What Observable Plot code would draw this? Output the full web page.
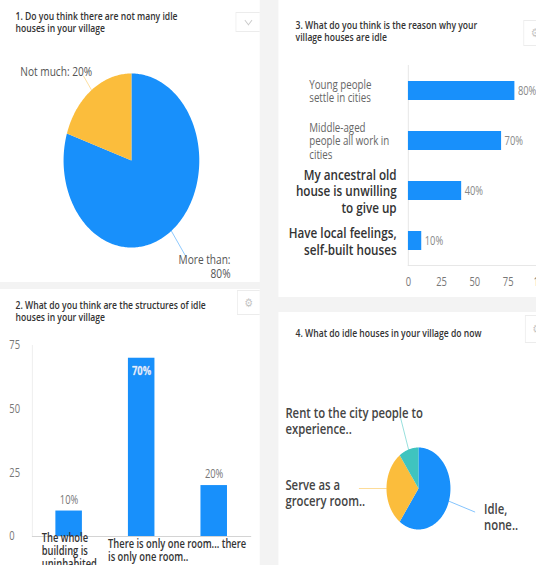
<!DOCTYPE html>
<html>
<head>
<meta charset="utf-8">
<script src="https://cdn.jsdelivr.net/npm/d3@7"></script>
<script src="https://cdn.jsdelivr.net/npm/@observablehq/plot@0.6"></script>
<style>
  html, body { margin: 0; padding: 0; width: 536px; height: 565px; overflow: hidden; background: #f3f3f3; }
  #wrap { position: absolute; left: 0; top: 0; width: 688px; height: 565px; transform: scaleX(0.78); transform-origin: 0 0; background: #f3f3f3; font-family: "Open Sans", sans-serif; }
  .panel { position: absolute; background: #ffffff; overflow: hidden; }
  .title { position: absolute; font-size: 11px; line-height: 11.5px; font-weight: 600; color: #333; white-space: nowrap; }
  .iconbox { position: absolute; border: 1px solid #ececec; background: #fff; box-sizing: border-box; display: flex; align-items: center; justify-content: center; color: #c4c4c4; font-family: "DejaVu Sans", sans-serif; font-size: 12px; }
  .chev { width: 6px; height: 6px; border-right: 1.5px solid #c8c8c8; border-bottom: 1.5px solid #c8c8c8; transform: rotate(45deg); margin-top: -4px; }
</style>
</head>
<body>
<div id="wrap">
  <div class="panel" id="p1" style="left:0px;top:0px;width:333px;height:282px;">
    <div class="title" style="left:20px;top:10px;">1. Do you think there are not many idle<br>houses in your village</div>
    <div class="iconbox" style="left:302px;top:12px;width:32px;height:20px;"><div class="chev"></div></div>
  </div>
  <div class="panel" id="p2" style="left:0px;top:289px;width:333px;height:276px;">
    <div class="title" style="left:20px;top:10px;">2. What do you think are the structures of idle<br>houses in your village</div>
    <div class="iconbox" style="left:304px;top:1px;width:30px;height:25px;">⚙</div>
  </div>
  <div class="panel" id="p3" style="left:357px;top:0px;width:331px;height:297px;">
    <div class="title" style="left:22px;top:19px;">3. What do you think is the reason why your<br>village houses are idle</div>
    <div class="iconbox" style="left:314px;top:20px;width:30px;height:26px;">⚙</div>
  </div>
  <div class="panel" id="p4" style="left:357px;top:312px;width:331px;height:253px;">
    <div class="title" style="left:22px;top:15px;">4. What do idle houses in your village do now</div>
    <div class="iconbox" style="left:316px;top:3px;width:30px;height:28px;">⚙</div>
  </div>
</div>
<script>
// ---------- data ----------
const blue = "#1890fb", yellow = "#fbbd3c", teal = "#3fc4bf";

// Chart 1: pie
const pie1Labels = ["More than", "Not much"];
const pie1Values = [80, 20];
const pie1Text = ["More than:\n80%", "Not much: 20%"];
const pie1Colors = [blue, yellow];

// Chart 2: vertical bars
const structureLabels = ["The whole\nbuilding is\nuninhabited", "There is only one room... there\nis only one room..", "Other"];
const structureValues = [10, 70, 20];
const structureTicks = [0, 25, 50, 75];

// Chart 3: horizontal bars
const reasonLabels = ["Young people\nsettle in cities", "Middle-aged\npeople all work in\ncities", "My ancestral old\nhouse is unwilling\nto give up", "Have local feelings,\nself-built houses"];
const reasonValues = [80, 70, 40, 10];
const reasonTicks = [0, 25, 50, 75, 100];

// Chart 4: pie
const pie4Labels = ["Idle, none..", "Serve as a grocery room..", "Rent to the city people to experience.."];
const pie4Values = [60, 30, 10];
const pie4Text = ["Idle,\nnone..", "Serve as a\ngrocery room..", "Rent to the city people to\nexperience.."];
const pie4Colors = [blue, yellow, teal];

// ---------- helpers ----------
const baseStyle = {fontFamily: "'Open Sans', sans-serif", fontSize: "12px", color: "#777", background: "transparent", overflow: "visible", position: "absolute", left: "0px", top: "0px", maxWidth: "none"};

function pieGeometry(labels, values) {
  const arcs = d3.pie().sort(null)(values);
  const polys = [], mids = [];
  arcs.forEach((a, i) => {
    polys.push({label: labels[i], x: 0, y: 0});
    const n = Math.max(2, Math.ceil((a.endAngle - a.startAngle) / (Math.PI / 180)));
    for (let k = 0; k <= n; k++) {
      const t = a.startAngle + (a.endAngle - a.startAngle) * k / n;
      polys.push({label: labels[i], x: Math.sin(t), y: Math.cos(t)});
    }
    const m = (a.startAngle + a.endAngle) / 2;
    mids.push({label: labels[i], i, sx: Math.sin(m), sy: Math.cos(m)});
  });
  return {polys, mids};
}
function leaders(mids, ext) {
  const out = [];
  mids.forEach(d => {
    const e = ext(d);
    out.push({label: d.label, x: d.sx, y: d.sy});
    out.push({label: d.label, x: d.sx * e, y: d.sy * e});
  });
  return out;
}

// ---------- chart 1 ----------
{
  const g = pieGeometry(pie1Labels, pie1Values);
  const ext = d => d.sx < 0 ? 1.2 : 1.35;
  const plot = Plot.plot({
    width: 333, height: 282, marginLeft: 81, marginRight: 78, marginTop: 73, marginBottom: 35,
    x: {domain: [-1, 1], axis: null}, y: {domain: [-1, 1], axis: null},
    color: {domain: pie1Labels, range: pie1Colors},
    style: baseStyle,
    marks: [
      Plot.line(g.polys, {x: "x", y: "y", z: "label", fill: "label", stroke: "none"}),
      Plot.line(leaders(g.mids, ext), {x: "x", y: "y", z: "label", stroke: "label", strokeWidth: 1, strokeOpacity: 0.55}),
      Plot.text(g.mids.filter(d => d.sx < 0), {x: d => d.sx * ext(d), y: d => d.sy * ext(d), text: d => pie1Text[d.i], textAnchor: "end", lineAnchor: "top", dx: 11, dy: -9.5, fontSize: 13, fill: "#555"}),
      Plot.text(g.mids.filter(d => d.sx >= 0), {x: d => d.sx * ext(d), y: d => d.sy * ext(d), text: d => pie1Text[d.i], textAnchor: "end", lineAnchor: "top", dx: 58, dy: -2, fontSize: 13, lineHeight: 1.08, fill: "#555"})
    ]
  });
  document.getElementById("p1").prepend(plot);
}

// ---------- chart 2 ----------
{
  const data = structureLabels.map((label, i) => ({label, value: structureValues[i], i}));
  const maxV = d3.max(structureValues);
  const plot = Plot.plot({
    width: 333, height: 276, marginLeft: 41, marginRight: 11, marginTop: 56, marginBottom: 29,
    x: {domain: structureLabels, paddingInner: 0.63, paddingOuter: 0.315, axis: null},
    y: {domain: [0, 75], axis: null},
    style: baseStyle,
    marks: [
      Plot.frame({anchor: "left", stroke: "#ececec"}),
      Plot.ruleY([0], {stroke: "#cfcfcf"}),
      Plot.barY(data, {x: "label", y: "value", fill: blue}),
      Plot.axisY({ticks: structureTicks, tickSize: 0, tickPadding: 29.5, textAnchor: "start", fill: "#777", fontSize: 12, label: null}),
      Plot.text(data.filter(d => d.value < maxV), {x: "label", y: "value", text: d => d.value + "%", dy: -11, fill: "#777", fontSize: 12}),
      Plot.text(data.filter(d => d.value === maxV), {x: "label", y: "value", text: d => d.value + "%", dy: 13, fill: "#e4eeff", stroke: "#9fb4cc", strokeWidth: 0.4, fontSize: 12, fontWeight: 700}),
      Plot.text(data.filter(d => d.i === 0), {x: "label", frameAnchor: "bottom", text: "label", textAnchor: "start", lineAnchor: "middle", dx: -35, dy: 14, lineHeight: 1.1, fontSize: 12, fontWeight: 600, fill: "#333"}),
      Plot.text(data.filter(d => d.i === 1), {x: "label", frameAnchor: "bottom", text: "label", textAnchor: "start", lineAnchor: "middle", dx: -43, dy: 14, lineHeight: 1.05, fontSize: 12, fontWeight: 600, fill: "#333"})
    ]
  });
  document.getElementById("p2").prepend(plot);
}

// ---------- chart 3 ----------
{
  const data = reasonLabels.map((label, i) => ({label, value: reasonValues[i], i}));
  const plot = Plot.plot({
    width: 350, height: 297, marginLeft: 166, marginRight: 13.4, marginTop: 65, marginBottom: 32,
    x: {domain: [0, 100], axis: null},
    y: {domain: reasonLabels, paddingInner: 0.62, paddingOuter: 0.31, axis: null},
    style: baseStyle,
    marks: [
      Plot.frame({anchor: "left", stroke: "#e4e4e4"}),
      Plot.frame({anchor: "bottom", stroke: "#e4e4e4"}),
      Plot.barX(data, {x: "value", y: "label", fill: blue}),
      Plot.text(data, {x: "value", y: "label", text: d => d.value + "%", textAnchor: "start", dx: 4, fill: "#888", fontSize: 12}),
      Plot.axisX({ticks: reasonTicks, tickSize: 0, tickPadding: 12, fill: "#777", fontSize: 12, label: null}),
      Plot.text(data.filter(d => d.i < 2), {y: "label", frameAnchor: "left", text: "label", textAnchor: "start", lineAnchor: "middle", dx: -127, lineHeight: 1.1, fontSize: 12.5, fill: "#666"}),
      Plot.text(data.filter(d => d.i >= 2), {y: "label", frameAnchor: "left", text: "label", textAnchor: "end", lineAnchor: "middle", dx: -15, lineHeight: 1.1, fontSize: 15, fontWeight: 600, fill: "#333"})
    ]
  });
  document.getElementById("p3").prepend(plot);
}

// ---------- chart 4 ----------
{
  const g = pieGeometry(pie4Labels, pie4Values);
  const ext = () => 1.85;
  const plot = Plot.plot({
    width: 331, height: 253, marginLeft: 138, marginRight: 111, marginTop: 135, marginBottom: 36,
    x: {domain: [-1, 1], axis: null}, y: {domain: [-1, 1], axis: null},
    color: {domain: pie4Labels, range: pie4Colors},
    style: baseStyle,
    marks: [
      Plot.line(g.polys, {x: "x", y: "y", z: "label", fill: "label", stroke: "none"}),
      Plot.line(leaders(g.mids, ext), {x: "x", y: "y", z: "label", stroke: "label", strokeWidth: 1, strokeOpacity: 0.6}),
      Plot.text(g.mids.filter(d => d.sx < 0), {y: d => d.sy * ext(d), frameAnchor: "left", text: d => pie4Text[d.i], textAnchor: "start", lineAnchor: "top", dx: -129.6, dy: -9.8, fontSize: 14.5, fontWeight: 600, lineHeight: 1.1, fill: "#444"}),
      Plot.text(g.mids.filter(d => d.sx >= 0), {x: d => d.sx * ext(d), y: d => d.sy * ext(d), text: d => pie4Text[d.i], textAnchor: "start", lineAnchor: "top", dx: 12, dy: -9.7, fontSize: 14.5, fontWeight: 600, lineHeight: 1.1, fill: "#444"})
    ]
  });
  document.getElementById("p4").prepend(plot);
}
</script>
</body>
</html>
